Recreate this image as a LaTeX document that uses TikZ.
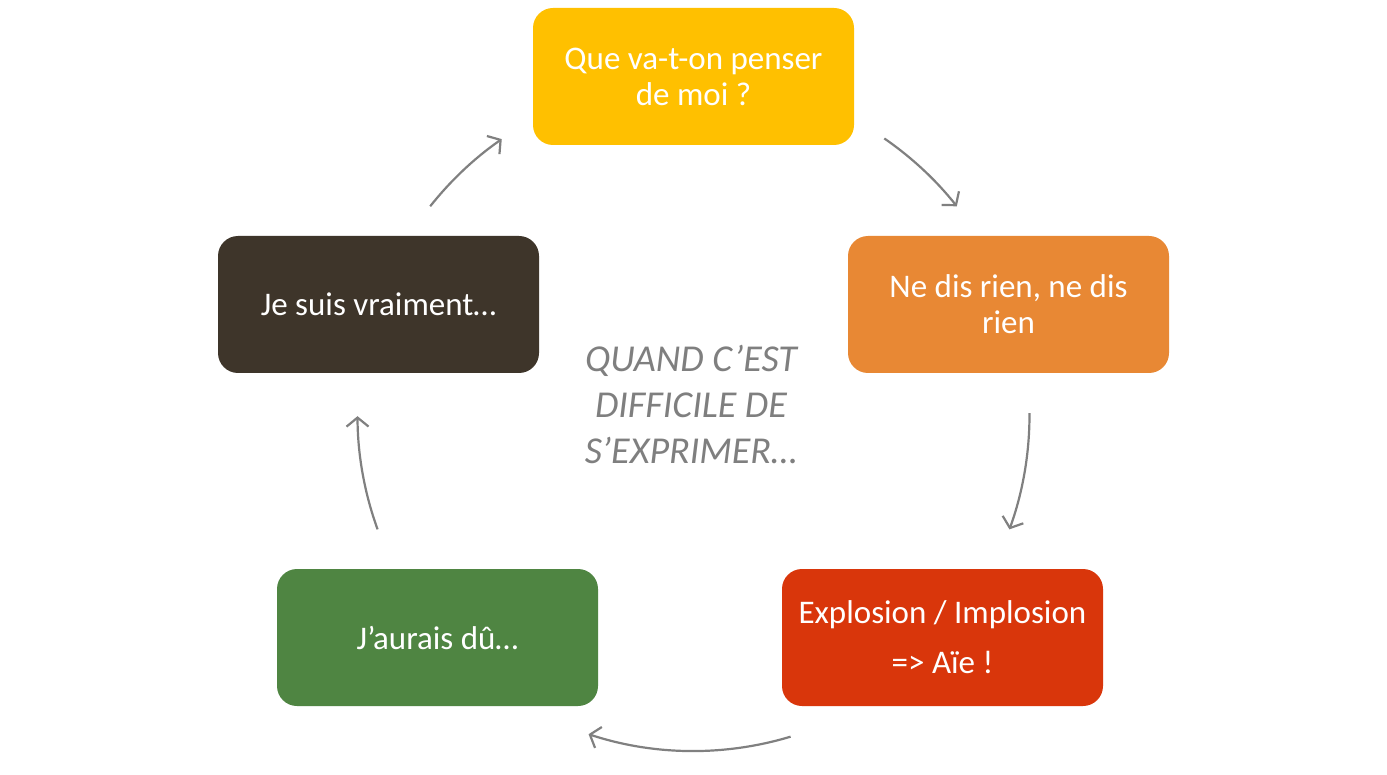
\documentclass[tikz,border=0pt]{standalone}
\usepackage{fontspec}
\setmainfont{Carlito}
\usetikzlibrary{arrows.meta}
\definecolor{cyellow}{HTML}{FFC000}
\definecolor{corange}{HTML}{E88834}
\definecolor{cred}{HTML}{D9360B}
\definecolor{cgreen}{HTML}{4F8542}
\definecolor{cdark}{HTML}{3E352A}
\definecolor{cgray}{HTML}{7F7F7F}
\definecolor{carrow}{HTML}{808080}
\tikzset{
  box/.style={rectangle, rounded corners=20pt, minimum width=321pt, minimum height=137pt,
    inner sep=0pt, align=center, text=white, font=\fontsize{33}{36}\selectfont},
  arr/.style={draw=carrow, line width=2.2pt, -{Straight Barb[length=9pt,width=22pt,line width=2.2pt]}},
}
\begin{document}
\begin{tikzpicture}[x=1pt,y=1pt]
\useasboundingbox[fill=white] (0,0) rectangle (1387,-775);
\node[box, fill=cyellow] (q) at (693.5,-76.5) {Que va-t-on penser\\de moi ?};
\node[box, fill=corange] (n) at (1008.5,-304.5) {Ne dis rien, ne dis\\rien};
\node[box, fill=cred] (e) at (942.5,-637.5) {Explosion / Implosion\\[14pt]=> Aïe !};
\node[box, fill=cgreen] (j) at (437.5,-637.5) {J’aurais dû…};
\node[box, fill=cdark] (v) at (378.5,-304.5) {Je suis vraiment…};
\node[align=center, text=cgray, font=\fontsize{38}{46}\selectfont\itshape] (t) at (691,-404)
  {QUAND C’EST\\DIFFICILE DE\\S’EXPRIMER…};
\coordinate (c) at (693.5,-415);
\coordinate (a1) at ([shift={(141.6:336pt)}]c);
\coordinate (a2) at ([shift={(55.4:336pt)}]c);
\coordinate (a3) at ([shift={(0.3:336pt)}]c);
\coordinate (a4) at ([shift={(-73.2:336pt)}]c);
\coordinate (a5) at ([shift={(-160.1:336pt)}]c);
\draw[arr] (a1) arc[start angle=141.6, end angle=124.8, radius=336pt];
\draw[arr] (a2) arc[start angle=55.4, end angle=38.4, radius=336pt];
\draw[arr] (a3) arc[start angle=0.3, end angle=-19.9, radius=336pt];
\draw[arr] (a4) arc[start angle=-73.2, end angle=-108.2, radius=336pt];
\draw[arr] (a5) arc[start angle=199.9, end angle=180.2, radius=336pt];
\end{tikzpicture}
\end{document}
